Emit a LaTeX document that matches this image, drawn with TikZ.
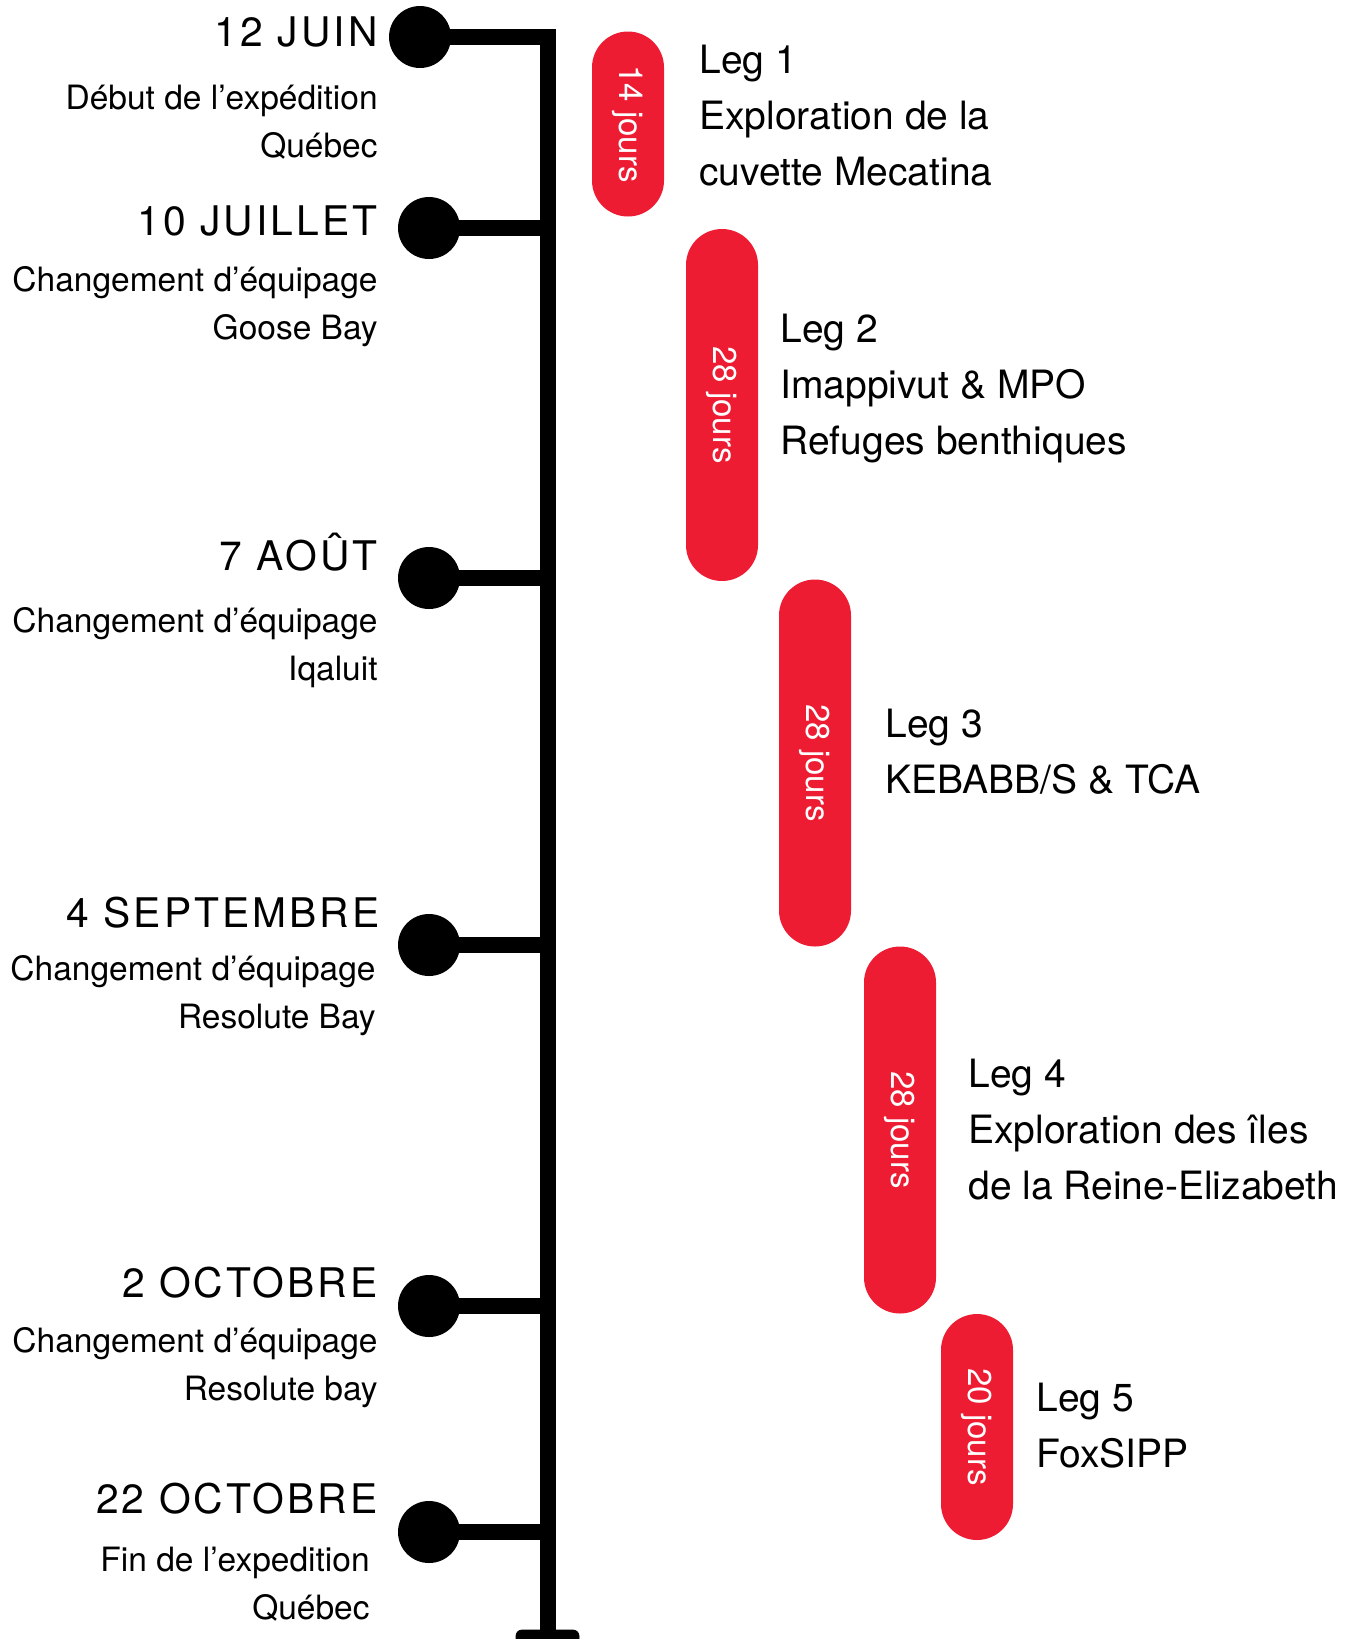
\documentclass[tikz,border=0pt]{standalone}
\usepackage{fontspec}
\setmainfont{TeX Gyre Heros}
\newfontfamily\datefont[LetterSpace=7.5]{TeX Gyre Heros}
\usepackage{tikz}
\usetikzlibrary{positioning,calc}
\definecolor{legred}{RGB}{237,28,51}

\begin{document}
\begin{tikzpicture}[x=0.5pt,y=-0.5pt,
		dot/.style={circle, fill=black, inner sep=0pt, minimum size=31pt},
		branch/.style={line width=8pt},
		date/.style={anchor=east, inner sep=0pt, font=\datefont\fontsize{20.4}{24}\selectfont},
		place/.style={anchor=east, align=right, inner sep=0pt, font=\fontsize{16.75}{24}\selectfont},
		pill/.style={fill=legred, rounded corners=18pt, minimum height=36pt, inner sep=0pt,
			rotate=-90, text=white, font=\fontsize{16.5}{20}\selectfont},
		legtext/.style={anchor=west, align=left, inner sep=0pt, font=\fontsize{19.5}{28}\selectfont}]
		\useasboundingbox (0,0) rectangle (1359,1639);
		\clip (0,0) rectangle (1359,1639);
		% dates on the left
		\node[dot] (d1) at (420,37) {};
		\node[dot] (d2) at (429,228) {};
		\node[dot] (d3) at (429,578) {};
		\node[dot] (d4) at (429,945) {};
		\node[dot] (d5) at (429,1306) {};
		\node[dot] (d6) at (429,1532) {};
		\coordinate (top) at (548,37);
		\coordinate (bottom) at (548,1660);
		\draw[branch] (d1.center) -- (top) -- (bottom);
		\draw[branch] (d2.center) -- (d2 -| top);
		\draw[branch] (d3.center) -- (d3 -| top);
		\draw[branch] (d4.center) -- (d4 -| top);
		\draw[branch] (d5.center) -- (d5 -| top);
		\draw[branch] (d6.center) -- (d6 -| top);
		\draw[fill=black, rounded corners=3pt] (516,1630) rectangle (579,1660);
		\node[date] (t1) at (378,32) {12 JUIN};
		\node[place] (p1) at (378,122) {Début de l’expédition\\Québec};
		\node[date] (t2) at (378,221) {10 JUILLET};
		\node[place] (p2) at (378,307) {Changement d’équipage\\Goose Bay};
		\node[date] (t3) at (378,552) {7 AOÛT};
		\node[place] (p3) at (378,648) {Changement d’équipage\\Iqaluit};
		\node[date] (t4) at (380,913) {4 SEPTEMBRE};
		\node[place] (p4) at (376,996) {Changement d’équipage\\Resolute Bay};
		\node[date] (t5) at (378,1283) {2 OCTOBRE};
		\node[place] (p5) at (378,1368) {Changement d’équipage\\Resolute bay};
		\node[date] (t6) at (378,1499) {22 OCTOBRE};
		\node[place] (p6) at (370,1584) {Fin de l’expedition\\Québec};
		% legs on the right
		\node[pill, minimum width=92.5pt] (leg1) at (628,124) {14 jours};
		\node[pill, minimum width=176pt] (leg2) at (722,405) {28 jours};
		\node[pill, minimum width=183.5pt] (leg3) at (815,763) {28 jours};
		\node[pill, minimum width=183.5pt] (leg4) at (900,1130) {28 jours};
		\node[pill, minimum width=113pt] (leg5) at (977,1427) {20 jours};
		\node[legtext] (l1) at (699,116) {Leg 1\\Exploration de la\\cuvette Mecatina};
		\node[legtext] (l2) at (780,389) {Leg 2\\Imappivut \& MPO\\Refuges benthiques};
		\node[legtext] (l3) at (885,752) {Leg 3\\KEBABB/S \& TCA};
		\node[legtext] (l4) at (968,1130) {Leg 4\\Exploration des îles\\de la Reine-Elizabeth};
		\node[legtext] (l5) at (1036,1426) {Leg 5\\FoxSIPP};
	\end{tikzpicture}
\end{document}
